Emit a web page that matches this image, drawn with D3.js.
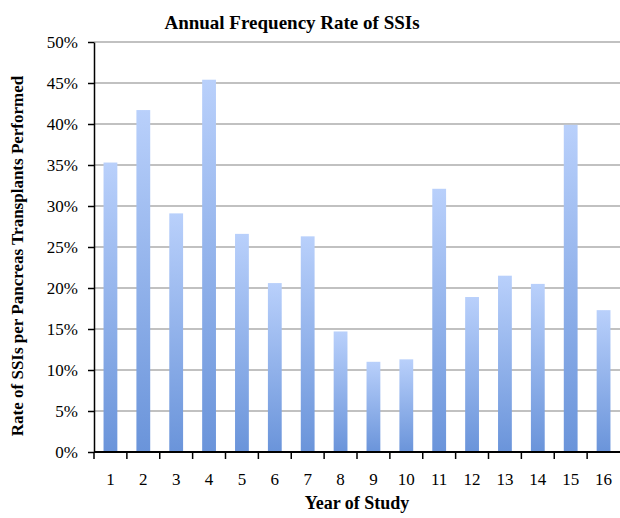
<!DOCTYPE html>
<html>
<head>
<meta charset="utf-8">
<script src="https://cdn.jsdelivr.net/npm/d3@7"></script>
<style>
  body { margin: 0; background: #fff; }
  svg text { font-family: "Liberation Serif", "Times New Roman", serif; fill: #000; }
</style>
</head>
<body>
<div id="chart"></div>
<script>
// Year of study and SSI rate (%)
const years = ['1', '2', '3', '4', '5', '6', '7', '8', '9', '10', '11', '12', '13', '14', '15', '16'];
const rates = [35.3, 41.7, 29.1, 45.4, 26.6, 20.6, 26.3, 14.7, 11.0, 11.3, 32.1, 18.9, 21.5, 20.5, 39.9, 17.3];
const yTicks = [0, 5, 10, 15, 20, 25, 30, 35, 40, 45, 50];

const width = 620, height = 518;
const margin = {top: 42, right: 0, bottom: 66, left: 94};
const innerW = width - margin.left - margin.right;
const innerH = height - margin.top - margin.bottom;

const svg = d3.select('#chart')
    .append('svg')
    .attr('width', width)
    .attr('height', height);

// gradient used by each bar, light at the top
const grad = svg.append('defs').append('linearGradient')
    .attr('id', 'barGrad')
    .attr('x1', 0).attr('y1', 0).attr('x2', 0).attr('y2', 1);
grad.append('stop').attr('offset', '0%').attr('stop-color', '#b9d0fb');
grad.append('stop').attr('offset', '100%').attr('stop-color', '#6a94da');

const g = svg.append('g')
    .attr('transform', `translate(${margin.left},${margin.top})`);

const x = d3.scaleBand()
    .domain(years)
    .range([0, innerW])
    .paddingInner(0.58)
    .paddingOuter(0.29);

const y = d3.scaleLinear()
    .domain([0, 50])
    .range([innerH, 0]);

// gridlines
g.append('g')
    .selectAll('line')
    .data(yTicks.slice(1))
    .join('line')
    .attr('x1', 0)
    .attr('x2', innerW)
    .attr('y1', d => y(d))
    .attr('y2', d => y(d))
    .attr('stroke', '#acacac')
    .attr('stroke-width', 1.5);

// bars
g.append('g')
    .selectAll('rect')
    .data(rates)
    .join('rect')
    .attr('x', (d, i) => x(years[i]))
    .attr('y', d => y(d))
    .attr('width', x.bandwidth())
    .attr('height', d => innerH - y(d))
    .attr('fill', 'url(#barGrad)');

// y axis
const yAxis = g.append('g')
    .call(d3.axisLeft(y).tickValues(yTicks).tickFormat(d => d + '%').tickSize(6).tickSizeOuter(0));
yAxis.select('.domain').attr('stroke', '#000').attr('stroke-width', 1.5);
yAxis.selectAll('.tick line').attr('stroke', '#000').attr('stroke-width', 1.5);
yAxis.selectAll('.tick text')
    .attr('x', -16)
    .style('font-size', '17px')
    .style('font-family', '"Liberation Serif", serif');

// x axis, ticks sit between categories
const xAxis = g.append('g')
    .attr('transform', `translate(0,${innerH})`);
xAxis.append('line')
    .attr('x1', 0).attr('x2', innerW)
    .attr('stroke', '#000').attr('stroke-width', 2);
xAxis.selectAll('.sep')
    .data(years)
    .join('line')
    .attr('class', 'sep')
    .attr('x1', (d, i) => i * x.step())
    .attr('x2', (d, i) => i * x.step())
    .attr('y1', 0)
    .attr('y2', 7)
    .attr('stroke', '#000')
    .attr('stroke-width', 1.5);
xAxis.selectAll('.lbl')
    .data(years)
    .join('text')
    .attr('class', 'lbl')
    .attr('x', d => x(d) + x.bandwidth() / 2)
    .attr('y', 33)
    .attr('text-anchor', 'middle')
    .style('font-size', '17px')
    .text(d => d);

// title
svg.append('text')
    .attr('x', 292)
    .attr('y', 29)
    .attr('text-anchor', 'middle')
    .style('font-size', '19px')
    .style('font-weight', 'bold')
    .text('Annual Frequency Rate of SSIs');

// axis titles
svg.append('text')
    .attr('x', margin.left + innerW / 2)
    .attr('y', 509)
    .attr('text-anchor', 'middle')
    .style('font-size', '18px')
    .style('font-weight', 'bold')
    .text('Year of Study');

svg.append('text')
    .attr('transform', 'rotate(-90)')
    .attr('x', -256)
    .attr('y', 23)
    .attr('text-anchor', 'middle')
    .style('font-size', '17px')
    .style('font-weight', 'bold')
    .text('Rate of SSIs per Pancreas Transplants Performed');
</script>
</body>
</html>
